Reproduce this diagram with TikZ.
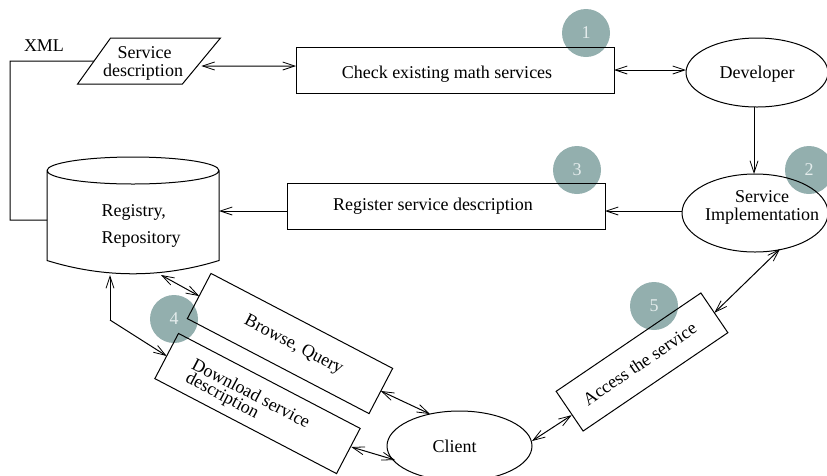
\documentclass[tikz,border=0pt]{standalone}
\usepackage{fontspec}
\setmainfont{Liberation Serif}
\usetikzlibrary{arrows.meta,shapes.geometric,calc}
\definecolor{badge}{HTML}{93AFAE}
\definecolor{badgetext}{HTML}{E4ECEC}
\newcommand{\lowered}[2]{\raisebox{-#1}[0pt][0pt]{#2}}
\tikzset{
  every node/.style={font=\fontsize{18}{18}\selectfont,inner sep=0pt,outer sep=0pt},
  badgenode/.style={circle,fill=badge,text=badgetext,minimum size=48pt},
  boxnode/.style={draw,rectangle,align=center},
  oval/.style={draw,ellipse,align=center},
  barbtip/.tip={Straight Barb[length=12pt,width=8pt,line width=0.8pt]},
  link/.style={line width=1pt,barbtip-barbtip},
  oneway/.style={line width=1pt,-barbtip},
  plainline/.style={line width=1pt}
}
\begin{document}
\begin{tikzpicture}[x=1pt,y=-1pt,line width=1pt]
\useasboundingbox (0,0) rectangle (827,475);
% badges
\node[badgenode] (b1) at (586,33) {1};
\node[badgenode] (b2) at (809,170) {2};
\node[badgenode] (b3) at (577,170) {3};
\node[badgenode] (b4) at (174,319) {4};
\node[badgenode] (b5) at (654,306) {5};
% shapes
\node[draw,trapezium,trapezium left angle=63.4,trapezium right angle=120,trapezium stretches=true,minimum width=143pt,minimum height=46pt] (desc) at (146.5,61) {\phantom{x}};
\node[align=center] (desctext) at (143,63) {\hspace*{3pt}Service\\description};
\node (xml) at (44,46) {XML};
\node[boxnode,minimum width=318pt,minimum height=46pt] (check) at (455,70) {\hspace{-16pt}\lowered{8pt}{Check existing math services}};
\node[oval,minimum width=142pt,minimum height=69pt] (dev) at (757,72.5) {\lowered{5.5pt}{Developer}};
\node[oval,minimum width=146pt,minimum height=78pt] (impl) at (755,213) {};
\node[align=center] (impltext) at (762,207) {Service\\Implementation};
\node[boxnode,minimum width=318pt,minimum height=46pt] (register) at (446,206) {\hspace{-26pt}\lowered{4pt}{Register service description}};
% cylinder
\node[minimum width=172pt,minimum height=117pt] (reg) at (133,215.5) {};
\coordinate (regbl) at ([yshift=13.5pt]reg.south west);
\coordinate (regbr) at ([yshift=13.5pt]reg.south east);
\draw[plainline] ([yshift=-13.5pt]reg.north west) arc[start angle=180,end angle=-180,x radius=86,y radius=13.5]
  -- (regbl) .. controls ($(regbl)+(57,17.7)$) and ($(regbr)+(-57,17.7)$) .. (regbr)
  -- ([yshift=-13.5pt]reg.north east);
\node[align=left,font=\fontsize{18}{27}\selectfont] (regtext) at (141,225.5) {Registry,\\Repository};
\node[boxnode,rotate=-27.6,minimum width=205pt,minimum height=51pt] (browse) at (290,343.5) {\hspace{8pt}Browse, Query};
\node[boxnode,rotate=-27.6,minimum width=205pt,minimum height=51pt,align=left,font=\fontsize{18}{15}\selectfont] (download) at (257.5,403.5) {\rule{0pt}{18pt}Download service\hspace*{21pt}\\\hspace*{1pt}description};
\node[oval,minimum width=145pt,minimum height=70pt] (client) at (459.5,446) {Client\hspace{10pt}};
\node[boxnode,rotate=34.2,minimum width=175pt,minimum height=48pt] (access) at (642,362) {Access the service\hspace{6pt}};
% corners of the elbow connectors
\coordinate (xmlcorner) at (10,61);
\coordinate (regelbow) at (110,320);
\coordinate (regfoot) at (110,275);
\coordinate (regfootb) at (161,275);
\coordinate (clienttop) at (430,414);
\coordinate (clientleft) at (395,460);
\coordinate (implfoot) at (780,249);
% connectors
\draw[plainline] (desc.west) -- (xmlcorner) |- ([yshift=-4.5pt]reg.west);
\draw[link] ([yshift=-5pt]desc.east) -- ([yshift=4pt]check.west);
\draw[link] (check.east) -- (dev.west |- check.east);
\draw[oneway] ([xshift=-3pt]dev.south) -- ([xshift=-3pt]dev.south |- impl.north);
\draw[oneway] ([yshift=2pt]impl.west) -- ([yshift=-5pt]register.east);
\draw[oneway] ([yshift=-5pt]register.west) -- ([yshift=-5pt]register.west -| reg.east);
\draw[link] (regfootb) -- (browse.west);
\draw[barbtip-,line width=1pt] (regfoot) -- (regelbow);
\draw[oneway] (regelbow) -- (download.west);
\draw[link] (browse.east) -- (clienttop);
\draw[link] ([xshift=3pt,yshift=4pt]download.east) -- (clientleft);
\draw[link] ([yshift=5pt]client.east) -- ([xshift=2pt,yshift=-4pt]access.west);
\draw[link] (access.east) -- (implfoot);
\end{tikzpicture}
\end{document}
